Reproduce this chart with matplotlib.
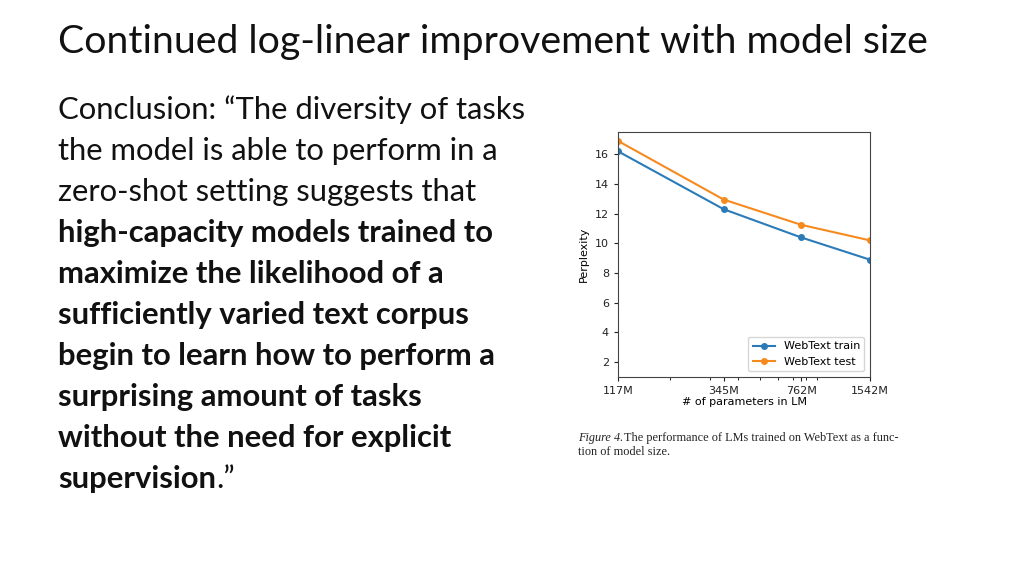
import matplotlib
matplotlib.use("Agg")
import matplotlib.pyplot as plt
from matplotlib.ticker import FixedLocator, FixedFormatter, NullFormatter

params = [117, 345, 762, 1542]
param_labels = ["117M", "345M", "762M", "1542M"]
train_ppl = [16.2, 12.3, 10.4, 8.9]
test_ppl = [16.9, 12.95, 11.25, 10.2]

title = "Continued log-linear improvement with model size"
body_lines = [
    ("Conclusion: \u201cThe diversity of tasks", "normal"),
    ("the model is able to perform in a", "normal"),
    ("zero-shot setting suggests that", "normal"),
    ("high-capacity models trained to", "bold"),
    ("maximize the likelihood of a", "bold"),
    ("sufficiently varied text corpus", "bold"),
    ("begin to learn how to perform a", "bold"),
    ("surprising amount of tasks", "bold"),
    ("without the need for explicit", "bold"),
]

fig = plt.figure(figsize=(10.24, 5.75), dpi=100)
W, H = 1024, 575
BODY = 22.3

fig.text(58 / W, 1 - 42 / H, title, fontsize=28.3, family="Lato", va="center", color="#111111")

y = 110
for line, weight in body_lines:
    fig.text(58 / W, 1 - y / H, line, fontsize=BODY, family="Lato", weight=weight,
             va="center", color="#111111")
    y += 41
t = fig.text(58 / W, 1 - y / H, "supervision", fontsize=BODY, family="Lato", weight="bold",
             va="center", color="#111111")
fig.canvas.draw()
bb = t.get_window_extent()
fig.text(bb.x1 / W, 1 - y / H, ".\u201d", fontsize=BODY, family="Lato", va="center", color="#111111")

ax = fig.add_axes([618 / W, 1 - 377 / H, 252 / W, 245 / H])
ax.plot(params, train_ppl, "-o", color="#2b7bb9", ms=4, lw=1.5, label="WebText train")
ax.plot(params, test_ppl, "-o", color="#f58a1f", ms=4, lw=1.5, label="WebText test")
ax.set_xscale("log")
ax.set_xlim(117, 1542)
ax.set_ylim(1.0, 17.5)
ax.xaxis.set_major_locator(FixedLocator(params))
ax.xaxis.set_major_formatter(FixedFormatter(param_labels))
ax.xaxis.set_minor_formatter(NullFormatter())
ax.set_yticks([2, 4, 6, 8, 10, 12, 14, 16])
ax.tick_params(labelsize=8, length=3, colors="#222222")
ax.set_xlabel("# of parameters in LM", fontsize=8, labelpad=1)
ax.set_ylabel("Perplexity", fontsize=8)
ax.legend(loc="lower right", fontsize=8, frameon=True)
for s in ax.spines.values():
    s.set_color("#444444")
    s.set_linewidth(0.8)

fig.text(578 / W, 1 - 438 / H, "Figure 4.", fontsize=8.8, family="Liberation Serif",
         style="italic", va="center", color="#222222")
fig.text(624 / W, 1 - 438 / H, "The performance of LMs trained on WebText as a func-",
         fontsize=8.8, family="Liberation Serif", va="center", color="#222222")
fig.text(578 / W, 1 - 452 / H, "tion of model size.", fontsize=8.8, family="Liberation Serif",
         va="center", color="#222222")

fig.savefig("out.png", dpi=100)
